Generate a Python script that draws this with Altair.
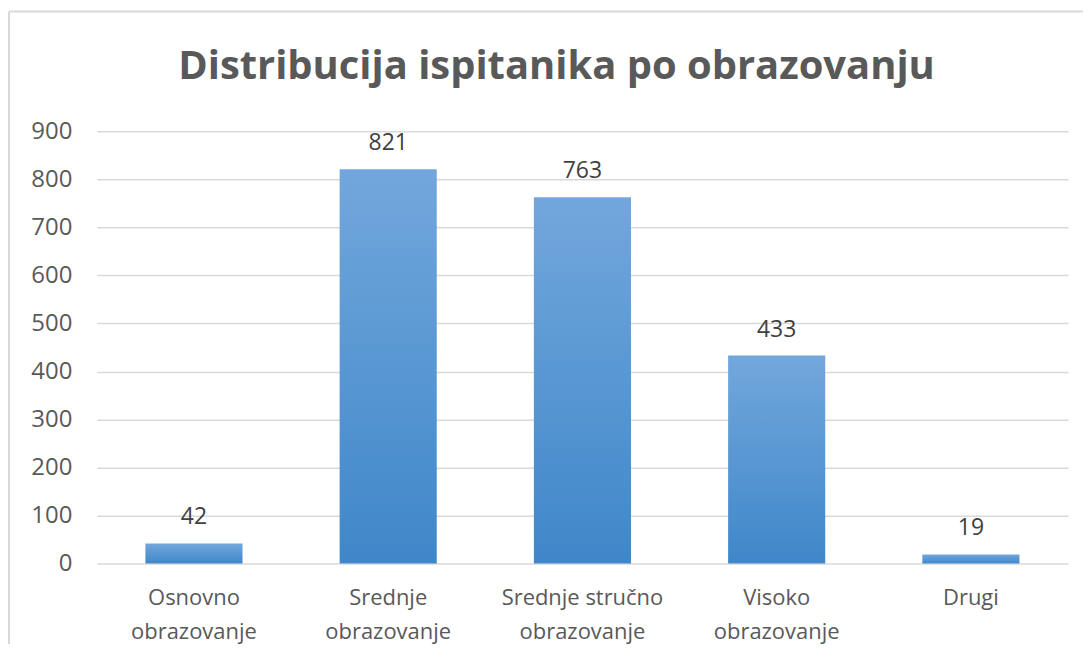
import altair as alt
import pandas as pd

categories = ["Osnovno|obrazovanje", "Srednje|obrazovanje", "Srednje stručno|obrazovanje",
              "Visoko|obrazovanje", "Drugi"]
values = [42, 821, 763, 433, 19]
y_ticks = [0, 100, 200, 300, 400, 500, 600, 700, 800, 900]

df = pd.DataFrame({"cat": categories, "val": values})

FONT = "Open Sans"
GRAY = "#595959"

gradient = alt.LinearGradient(
    gradient="linear",
    stops=[alt.GradientStop(color="#72a7dc", offset=0),
           alt.GradientStop(color="#3f87c9", offset=1)],
    x1=0, x2=0, y1=0, y2=1,
)

x = alt.X(
    "cat:N", sort=categories, title=None,
    scale=alt.Scale(paddingInner=0.5, paddingOuter=0.25),
    axis=alt.Axis(labelAngle=0, labelExpr="split(datum.value, '|')",
                  labelFont=FONT, labelFontSize=22, labelColor=GRAY,
                  labelLineHeight=34, labelPadding=24, ticks=False, domain=False,
                  labelLimit=300),
)
y = alt.Y(
    "val:Q", title=None,
    scale=alt.Scale(domain=[0, 900], nice=False),
    axis=alt.Axis(values=y_ticks, labelFont=FONT, labelFontSize=24, labelColor=GRAY,
                  labelPadding=25, ticks=False, domain=False,
                  gridColor="#d9d9d9", gridWidth=1.5),
)

base = alt.Chart(df)
bars = base.mark_bar(color=gradient).encode(x=x, y=y)
labels = base.mark_text(baseline="bottom", dy=-14, font=FONT, fontSize=23,
                        color="#404040").encode(x=x, y=y, text="val:Q")

border_data = alt.Data(values=[{"k": 1}])
left_border = alt.Chart(border_data).mark_rule(color="#d9d9d9", strokeWidth=2).encode(
    x=alt.value(-88), y=alt.value(-120), y2=alt.value(560))
top_border = alt.Chart(border_data).mark_rule(color="#d9d9d9", strokeWidth=2).encode(
    x=alt.value(-88), x2=alt.value(1010), y=alt.value(-120))

chart = alt.layer(bars, labels, left_border, top_border).properties(
    width=973, height=433,
    title=alt.TitleParams("Distribucija ispitanika po obrazovanju", font=FONT,
                          fontSize=40, fontWeight="bold", color=GRAY,
                          anchor="middle", dx=-26, offset=-77),
    autosize=alt.AutoSizeParams(type="none"),
    padding={"left": 89, "top": 123, "right": 15, "bottom": 80},
).configure(background="white").configure_view(stroke=None)

chart.save("out.html", embed_options={"renderer": "svg", "actions": False})
